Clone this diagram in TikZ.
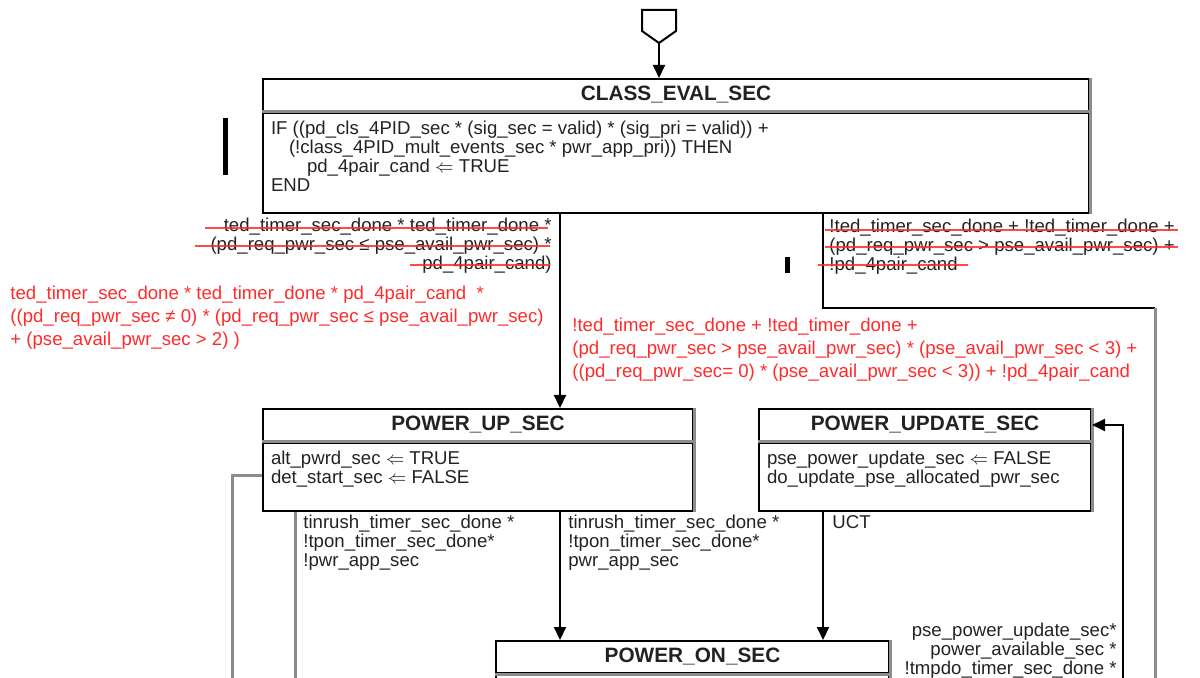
\documentclass[tikz,border=0pt]{standalone}
\usepackage{fontspec}
\setmainfont{Liberation Sans}
\usetikzlibrary{arrows.meta,positioning}
\definecolor{TextCol}{HTML}{222222}
\definecolor{EditRed}{HTML}{FF2A2A}
\definecolor{EdgeGray}{HTML}{8C8C8C}
\newcommand{\stbody}[3]{\parbox[c][#2][t]{#1}{\raggedright #3}}
\newcommand{\la}{$\Leftarrow$}

\begin{document}
\begin{tikzpicture}[x=0.5pt, y=-0.5pt,
  every node/.style={font=\fontsize{9.3}{9.5}\selectfont, text=TextCol, inner sep=0pt},
  sttitle/.style={draw, line width=1pt, minimum height=16pt, anchor=north west,
                  font=\bfseries\fontsize{10.4}{12}\selectfont},
  stbody/.style={draw, line width=1pt, inner xsep=4pt, inner ysep=4pt, below=0pt of #1},
  divider/.style={line width=1.5pt, EdgeGray},
  tr/.style={line width=1pt, -{Triangle[length=6.5pt,width=6pt]}},
  wire/.style={line width=1pt},
  offwire/.style={line width=1.5pt, EdgeGray},
  cond/.style={align=left, anchor=north west},
  newcond/.style={align=left, anchor=north west, text=EditRed,
                  font=\fontsize{9.3}{11.3}\selectfont},
  strike/.style={line width=1.2pt, EditRed, opacity=0.85},
  chbar/.style={line width=2.5pt, black}]
  \useasboundingbox (0,0) rectangle (1200,678);
  \clip (0,0) rectangle (1200,678);

  % states
  \node[sttitle, minimum width=413pt] (cev) at (262,78) {CLASS\_EVAL\_SEC};
  \node[stbody=cev, font=\fontsize{9.3}{9.45}\selectfont] (cevb) {\stbody{405pt}{42pt}{%
    IF ((pd\_cls\_4PID\_sec * (sig\_sec = valid) * (sig\_pri = valid)) +\\
    \hspace*{9pt}(!class\_4PID\_mult\_events\_sec * pwr\_app\_pri)) THEN\\
    \hspace*{18pt}pd\_4pair\_cand \la{} TRUE\\
    END}};
  \node[sttitle, minimum width=215pt] (pus) at (262,408) {POWER\_UP\_SEC};
  \node[stbody=pus] (pusb) {\stbody{207pt}{26pt}{%
    alt\_pwrd\_sec \la{} TRUE\\
    det\_start\_sec \la{} FALSE}};
  \node[sttitle, minimum width=166pt] (pud) at (758,408) {POWER\_UPDATE\_SEC};
  \node[stbody=pud] (pudb) {\stbody{158pt}{26pt}{%
    pse\_power\_update\_sec \la{} FALSE\\
    do\_update\_pse\_allocated\_pwr\_sec}};
  \node[sttitle, minimum width=196.5pt] (pon) at (495,640) {POWER\_ON\_SEC};
  \node[stbody=pon] (ponb) {\stbody{188.5pt}{32pt}{\mbox{}}};

  \foreach \s in {cev,pus,pud,pon}{
    \draw[divider] (\s.south west) -- (\s.south east);
    \draw[divider] (\s.north east) -- (\s b.south east);
  }

  % entry
  \coordinate (entry) at (659,43);
  \draw[wire, fill=white] (642,10) -- (676,10) -- (676,31) -- (entry) -- (642,31) -- cycle;
  \draw[tr] (entry) -- (entry |- cev.north);

  % transitions
  \coordinate (xup) at (560,0);
  \coordinate (xupd) at (823,0);
  \coordinate (bend1) at (823,308);
  \coordinate (bend2) at (1155,308);
  \coordinate (off1) at (1155,700);
  \coordinate (bend3) at (232,476);
  \coordinate (off2) at (232,700);
  \coordinate (off3) at (295,700);
  \coordinate (off4) at (1123,700);
  \draw[tr] (cevb.south -| xup) -- (pus.north -| xup);
  \draw[wire] (cevb.south -| xupd) -- (bend1) -- (bend2);
  \draw[offwire] (bend2) -- (off1);
  \draw[tr] (pusb.south -| xup) -- (pon.north -| xup);
  \draw[tr] (pudb.south -| xupd) -- (pon.north -| xupd);
  \draw[offwire] (pusb.west |- bend3) -- (bend3) -- (off2);
  \draw[offwire] (pusb.south -| off3) -- (off3);
  \draw[tr] (off4) -- (off4 |- pud.east) -- (pud.east);

  % change bars
  \draw[chbar] (225,118) -- (225,175);
  \draw[chbar] (787,257) -- (787,273);

  % conditions
  \node[cond, anchor=north east, align=right] (oldup) at (552,218)
    {ted\_timer\_sec\_done * ted\_timer\_done *\\
     (pd\_req\_pwr\_sec ≤ pse\_avail\_pwr\_sec) *\\
     pd\_4pair\_cand)};
  \draw[strike] (205,228) -- (548,228);
  \draw[strike] (195,246) -- (550,246);
  \draw[strike] (410,265) -- (550,265);
  \node[newcond] (newup) at (10,286)
    {ted\_timer\_sec\_done * ted\_timer\_done * pd\_4pair\_cand~~*\\
     ((pd\_req\_pwr\_sec ≠ 0) * (pd\_req\_pwr\_sec ≤ pse\_avail\_pwr\_sec)\\
     + (pse\_avail\_pwr\_sec > 2) )};
  \node[cond] (oldupd) at (829,219)
    {!ted\_timer\_sec\_done + !ted\_timer\_done +\\
     (pd\_req\_pwr\_sec > pse\_avail\_pwr\_sec) +\\
     !pd\_4pair\_cand};
  \draw[strike] (825,230) -- (1178,230);
  \draw[strike] (825,247) -- (1178,247);
  \draw[strike] (818,265) -- (968,265);
  \node[newcond] (newupd) at (572,318)
    {!ted\_timer\_sec\_done + !ted\_timer\_done +\\
     (pd\_req\_pwr\_sec > pse\_avail\_pwr\_sec) * (pse\_avail\_pwr\_sec < 3) +\\
     ((pd\_req\_pwr\_sec= 0) * (pse\_avail\_pwr\_sec < 3)) + !pd\_4pair\_cand};
  \node[cond] (lowpwr) at (303,515)
    {tinrush\_timer\_sec\_done *\\!tpon\_timer\_sec\_done*\\!pwr\_app\_sec};
  \node[cond] (hipwr) at (568,515)
    {tinrush\_timer\_sec\_done *\\!tpon\_timer\_sec\_done*\\pwr\_app\_sec};
  \node[cond] (uct) at (832,515) {UCT};
  \node[cond, anchor=north east, align=right] (updreq) at (1117,623)
    {pse\_power\_update\_sec*\\power\_available\_sec *\\!tmpdo\_timer\_sec\_done *};
\end{tikzpicture}
\end{document}
